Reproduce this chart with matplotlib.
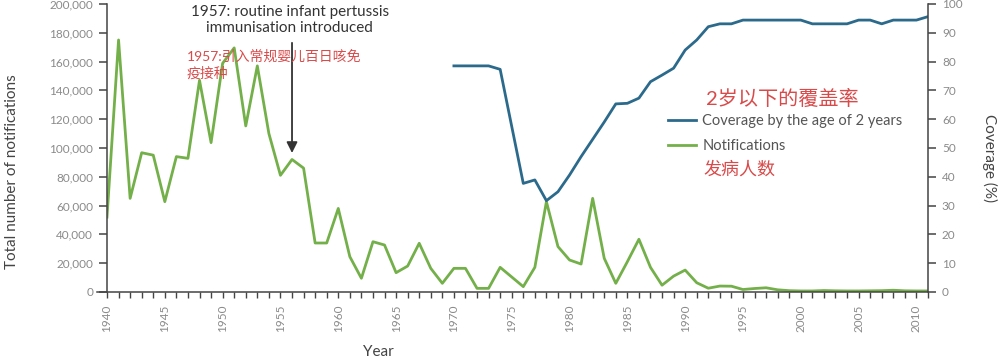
import matplotlib
matplotlib.use("Agg")
import matplotlib.pyplot as plt
from matplotlib.ticker import FuncFormatter, MultipleLocator

plt.rcParams['font.family'] = ['Lato', 'Noto Sans CJK SC', 'DejaVu Sans']

# ---- data ----
notif_years = list(range(1940, 2012))
notifications = [
    52000, 175000, 65000, 96700, 95000, 62700, 94000, 92800, 147000, 103700,
    158800, 169500, 115300, 157000, 110000, 81000, 92000, 86000, 34000, 34000,
    58000, 24500, 9500, 34900, 32600, 13400, 18000, 33800, 16400, 6000,
    16400, 16400, 2500, 2500, 17100, 10400, 3700, 17100, 62700, 31500,
    22200, 19400, 65000, 23400, 6000, 21000, 36600, 17100, 4700, 11000,
    15200, 6400, 2600, 4100, 4000, 1700, 2400, 2900, 1500, 900,
    700, 700, 1000, 800, 700, 700, 800, 900, 1200, 800,
    700, 700,
]
cov_years = list(range(1970, 2012))
coverage = [
    78.5, 78.5, 78.5, 78.5, 77.3, 57.5, 37.7, 38.9, 31.7, 34.8,
    40.6, 47.0, 53.0, 59.0, 65.3, 65.5, 67.3, 73.0, 75.3, 77.7,
    84.0, 87.5, 92.1, 93.1, 93.1, 94.4, 94.4, 94.4, 94.4, 94.4,
    94.4, 93.1, 93.1, 93.1, 93.1, 94.4, 94.4, 93.1, 94.4, 94.4,
    94.4, 95.6,
]
left_ticks = list(range(0, 200001, 20000))
right_ticks = list(range(0, 101, 10))
year_labels = list(range(1940, 2011, 5))

GREEN = '#74b04a'
BLUE = '#2c6a8c'
RED = '#d94a4a'
SPINE = '#444444'
TICKLAB = '#8a8a8a'
TEXT = '#444444'

fig = plt.figure(figsize=(10, 3.6), dpi=100)
ax = fig.add_axes([0.107, 0.189, 0.821, 0.800])
ax2 = ax.twinx()

l_not, = ax.plot(notif_years, notifications, color=GREEN, lw=2.0,
                 solid_joinstyle='round')
l_cov, = ax2.plot(cov_years, coverage, color=BLUE, lw=2.0,
                  solid_joinstyle='round')

ax.set_xlim(1940, 2011)
ax.set_ylim(0, 200000)
ax2.set_ylim(0, 100)

# spines
for a in (ax, ax2):
    a.spines['top'].set_visible(False)
    for s in ('left', 'right', 'bottom'):
        a.spines[s].set_color(SPINE)
        a.spines[s].set_linewidth(1.1)
ax.spines['right'].set_visible(False)
ax2.spines['left'].set_visible(False)
ax2.spines['bottom'].set_visible(False)
ax.spines['bottom'].set_bounds(1939.1, 2011)

# ticks
ax.set_yticks(left_ticks)
ax.yaxis.set_major_formatter(FuncFormatter(lambda v, p: f"{int(v):,}"))
ax.tick_params(axis='y', direction='out', length=6, width=1.1, color=SPINE,
               labelsize=8.5, labelcolor=TICKLAB, pad=4)
ax2.set_yticks(right_ticks)
ax2.tick_params(axis='y', direction='out', length=6, width=1.1, color=SPINE,
                labelsize=8.5, labelcolor=TICKLAB, pad=4)

ax.set_xticks(year_labels)
ax.set_xticklabels([str(y) for y in year_labels], rotation=90)
ax.xaxis.set_minor_locator(MultipleLocator(1))
ax.tick_params(axis='x', which='both', direction='out', length=4, width=1.0,
               color=SPINE, labelsize=8.5, labelcolor=TICKLAB, pad=5)

# axis labels
fig.text(0.012, 0.522, 'Total number of notifications', rotation=90,
         ha='center', va='center', fontsize=11, color=TEXT)
fig.text(0.990, 0.561, 'Coverage (%)', rotation=270,
         ha='center', va='center', fontsize=11, color=TEXT)
fig.text(0.378, 0.022, 'Year', ha='center', va='center', fontsize=11,
         color=TEXT)

# annotation
ax.annotate('', xy=(1956, 96500), xytext=(1956, 173000),
            arrowprops=dict(arrowstyle='-|>', color='#333333', lw=1.3,
                            mutation_scale=16, shrinkA=0, shrinkB=0))
ax.text(1955.8, 189000, '1957: routine infant pertussis\nimmunisation introduced',
        ha='center', va='center', fontsize=11, color='#333333', linespacing=1.2)
ax.text(1946.9, 158000, '1957:引入常规婴儿百日咳免\n疫接种', ha='left',
        va='center', fontsize=10, color=RED, linespacing=1.35)

# legend
leg = ax2.legend([l_cov, l_not], ['Coverage by the age of 2 years', 'Notifications'],
                 loc='upper left', bbox_to_anchor=(0.668, 1 - 114 / 360),
                 bbox_transform=fig.transFigure, frameon=False,
                 fontsize=10.5, handlelength=1.9, handletextpad=0.45,
                 labelspacing=0.75, borderpad=0, borderaxespad=0)
for t in leg.get_texts():
    t.set_color('#555555')
fig.text(0.706, 1 - 98 / 360, '2岁以下的覆盖率', ha='left', va='center',
         fontsize=14.5, color=RED)
fig.text(0.703, 1 - 169 / 360, '发病人数', ha='left', va='center',
         fontsize=13, color=RED)

fig.savefig('out.png', dpi=100)
